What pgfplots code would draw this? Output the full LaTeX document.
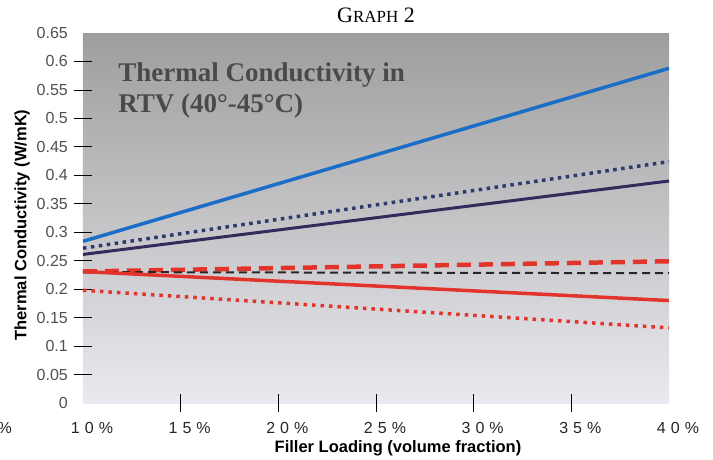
\documentclass[border=0pt]{standalone}
\usepackage{fontspec}
\setmainfont{Liberation Serif}
\setsansfont{Liberation Sans}
\usepackage{pgfplots}
\pgfplotsset{compat=1.18}
\definecolor{bgtop}{HTML}{9E9E9E}
\definecolor{bgmid}{HTML}{C6C6CA}
\definecolor{bgbot}{HTML}{E9E9EF}
\definecolor{lblue}{HTML}{1B6EC8}
\definecolor{navy}{HTML}{2E3A6C}
\definecolor{dpurple}{HTML}{352A5C}
\definecolor{lred}{HTML}{E2342B}
\definecolor{ylab}{HTML}{505050}
\definecolor{ttl}{HTML}{4A4A4A}
\begin{document}
\begin{tikzpicture}
\useasboundingbox (-83pt,-56pt) rectangle (630pt,403pt);
\begin{axis}[
  at={(0pt,0pt)}, anchor=south west,
  scale only axis, width=586pt, height=370pt,
  xmin=10, xmax=40, ymin=0, ymax=0.65,
  axis x line*=bottom, axis y line*=left,
  axis line style={draw=none},
  axis background/.style={top color=bgtop, middle color=bgmid, bottom color=bgbot},
  tick align=center, major tick length=18pt,
  tick style={black, line width=0.8pt},
  xtick={15,20,25,30,35},
  xticklabels={1\hspace{5pt}5\hspace{5pt}\%,2\hspace{5pt}0\hspace{5pt}\%,2\hspace{5pt}5\hspace{5pt}\%,3\hspace{5pt}0\hspace{5pt}\%,3\hspace{5pt}5\hspace{5pt}\%},
  extra x ticks={10,40},
  extra x tick labels={1\hspace{5pt}0\hspace{5pt}\%,4\hspace{5pt}0\hspace{5pt}\%},
  extra x tick style={tick style={draw=none}},
  ytick={0.05,0.1,0.15,0.2,0.25,0.3,0.35,0.4,0.45,0.5,0.55,0.6},
  yticklabels={0.05,0.1,0.15,0.2,0.25,0.3,0.35,0.4,0.45,0.5,0.55,0.6},
  extra y ticks={0,0.65},
  extra y tick labels={0,0.65},
  extra y tick style={tick style={draw=none}},
  /pgf/number format/assume math mode=true,
  ticklabel style={font=\sffamily\fontsize{16}{16}\selectfont},
  xticklabel style={anchor=north, inner sep=0pt, yshift=-10pt, xshift=9pt, text=black!85},
  yticklabel style={anchor=east, inner sep=0pt, xshift=-6pt, text=ylab},
  xlabel={Filler Loading (volume fraction)},
  ylabel={Thermal Conductivity (W/mK)},
  every axis x label/.style={at={(axis description cs:0.5375,0)}, anchor=center, yshift=-45pt, font=\sffamily\bfseries\fontsize{16.5}{16.5}\selectfont},
  every axis y label/.style={at={(axis description cs:0,0.481)}, rotate=90, anchor=center, yshift=61pt, font=\sffamily\bfseries\fontsize{16.5}{16.5}\selectfont},
]
\addplot[lblue, line width=3.5pt] coordinates {(10,0.284) (40,0.588)};
\addplot[navy, line width=3.5pt, dash pattern=on 3.5pt off 4.5pt] coordinates {(10,0.272) (40,0.424)};
\addplot[dpurple, line width=3pt] coordinates {(10,0.261) (40,0.390)};
\addplot[lred, line width=4.5pt, dash pattern=on 14pt off 8pt] coordinates {(10,0.231) (40,0.249)};
\addplot[black!85, line width=2pt, dash pattern=on 8pt off 5pt] coordinates {(10,0.230) (40,0.228)};
\addplot[lred, line width=3.5pt] coordinates {(10,0.231) (40,0.180)};
\addplot[lred, line width=3.5pt, dash pattern=on 3.5pt off 5pt] coordinates {(10,0.198) (40,0.132)};
\node[anchor=north west, inner sep=0pt, align=left, text=ttl, font=\bfseries\fontsize{27}{31}\selectfont] at (axis description cs:0.06,0.919) {Thermal Conductivity in\\RTV (40°-45°C)};
\end{axis}
\node[anchor=base, inner sep=0pt, font=\fontsize{22}{22}\selectfont] at (293pt,380pt) {G{\fontsize{17}{17}\selectfont RAPH} 2};
\node[anchor=east, inner sep=0pt, font=\sffamily\fontsize{16}{16}\selectfont, text=black!85] at (-71pt,-25pt) {\%};
\end{tikzpicture}
\end{document}
